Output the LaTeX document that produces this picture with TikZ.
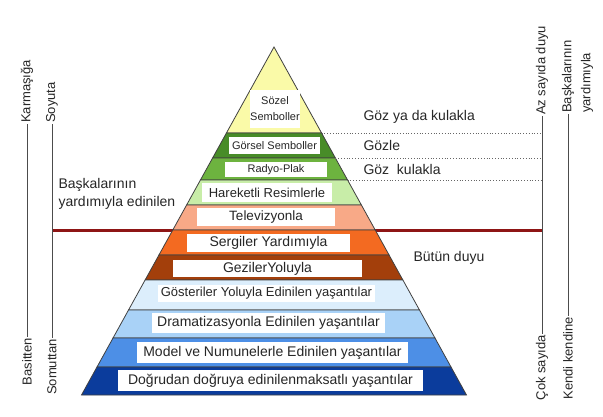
\documentclass[tikz,border=0pt]{standalone}
\usepackage{fontspec}
\setmainfont{Liberation Sans}
\definecolor{redline}{HTML}{8E1515}
\definecolor{sozel}{HTML}{FAFAA8}
\definecolor{gorsel}{HTML}{488C28}
\definecolor{radyo}{HTML}{6DB33F}
\definecolor{hareket}{HTML}{C8EDA8}
\definecolor{tv}{HTML}{F8A987}
\definecolor{sergi}{HTML}{F36A21}
\definecolor{gezi}{HTML}{A33F0B}
\definecolor{gosteri}{HTML}{DCEEFC}
\definecolor{drama}{HTML}{A9D2F7}
\definecolor{model}{HTML}{4D8FE6}
\definecolor{dogru}{HTML}{0B3C9C}
\tikzset{band/.style={draw=black!75, line width=0.8pt},
 lbl/.style={fill=white, inner sep=0pt, align=center, text=black!85},
 side/.style={rotate=90, inner sep=1pt, font=\fontsize{13pt}{15pt}\selectfont, text=black!85},
 note/.style={anchor=west, align=left, font=\fontsize{14pt}{18pt}\selectfont, text=black!85},
 sideline/.style={draw=black!70, line width=0.8pt},
 dotline/.style={draw=black!60, dotted, line width=0.8pt},
 }

\begin{document}
\begin{tikzpicture}[x=1pt, y=-1pt]
        \useasboundingbox (0,0) rectangle (603,416);

        % border between the two halves
        \coordinate (redl) at (52,230);
        \coordinate (redr) at (542,230);
        \draw[redline, line width=3pt] (redl) -- (redr);

        % pyramid bands with their labels
        \foreach \ya/\yb/\col/\txt/\xc/\yc/\bw/\bh/\fs [count=\n] in {
            47/133/sozel/{Sözel\\Semboller}/275/109/46/38/11,
            133/158/gorsel/Görsel Semboller/274.5/145.5/91/17/11,
            158/180/radyo/Radyo-Plak/276/169.5/102/15/11,
            180/205/hareket/Hareketli Resimlerle/267/192.5/130/19/13,
            205/230/tv/Televizyonla/266/217/138/18/13.5,
            230/255/sergi/Sergiler Yardımıyla/268.5/243/163/18/14,
            255/280/gezi/GezilerYoluyla/267.5/268.5/189/17/14,
            280/310/gosteri/Gösteriler Yoluyla Edinilen yaşantılar/266.5/293.5/217/17/13,
            310/338/drama/Dramatizasyonla Edinilen yaşantılar/268.5/323/233/20/14,
            338/367/model/Model ve Numunelerle Edinilen yaşantılar/272.5/352.5/271/21/14,
            367/395/dogru/Doğrudan doğruya edinilenmaksatlı yaşantılar/270.5/380.5/305/21/14} {
            \pgfmathsetmacro\wa{192.5/348*(\ya-47)}
            \pgfmathsetmacro\wb{192.5/348*(\yb-47)}
            \draw[band, fill=\col] (274-\wa,\ya) -- (274+\wa,\ya) -- (274+\wb,\yb) -- (274-\wb,\yb) -- cycle;
            \node[lbl, minimum width=\bw, minimum height=\bh, font=\fontsize{\fs pt}{16pt}\selectfont] (band\n) at (\xc,\yc) {\txt};
        }

        % dotted guides on the right
        \foreach \y in {133, 158, 180} {
            \pgfmathsetmacro\w{192.5/348*(\y-47)}
            \draw[dotline] (274+\w,\y) -- (542,\y);
        }

        \node[note] (gozkulak) at (360,117) {Göz ya da kulakla};
        \node[note] (gozle) at (360,145) {Gözle};
        \node[note] (gozkul) at (360,169) {Göz\ \ kulakla};
        \node[note] (butun) at (410,258) {Bütün duyu};
        \node[note] (baska) at (55,194) {Başkalarının\\yardımıyla edinilen};

        % side scales
        \node[side, anchor=west] (karm) at (27,124) {Karmaşığa};
        \node[side, anchor=east] (basit) at (27,337) {Basitten};
        \draw[sideline] (karm) -- (basit);

        \node[side, anchor=west] (soyut) at (52,124) {Soyuta};
        \node[side, anchor=east] (somut) at (52,338) {Somuttan};
        \draw[sideline] (soyut) -- (somut);

        \node[side, anchor=west] (az) at (542,116) {Az sayıda duyu};
        \node[side, anchor=east] (cok) at (542,334) {Çok sayıda};
        \draw[sideline] (az) -- (cok);

        \node[side, anchor=west] (bask1) at (568,114) {Başkalarının};
        \node[side, anchor=west] (bask2) at (587,114) {yardımıyla};
        \node[side, anchor=east] (kendi) at (568,316) {Kendi kendine};
        \draw[sideline] (bask1) -- (kendi);
\end{tikzpicture}
\end{document}
